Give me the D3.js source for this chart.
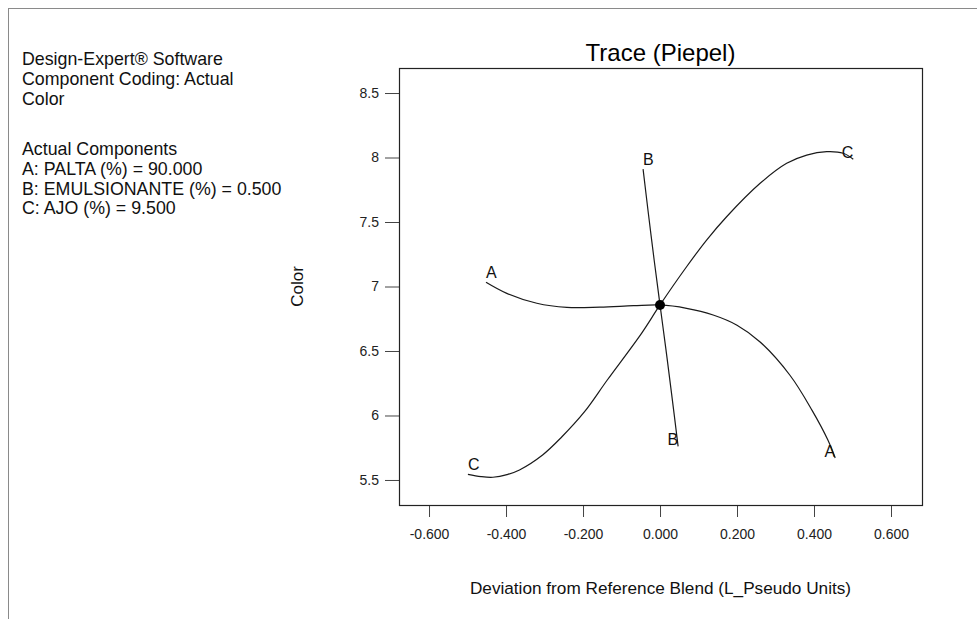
<!DOCTYPE html>
<html>
<head>
<meta charset="utf-8">
<script src="https://cdn.jsdelivr.net/npm/d3@7/dist/d3.min.js"></script>
<style>
  html, body { margin: 0; padding: 0; background: #fff; }
  svg { display: block; font-family: "Liberation Sans", Arial, sans-serif; }
</style>
</head>
<body>
<svg id="chart" width="977" height="619"></svg>
<script>
// Trace (Piepel) response curves for Color, one per mixture component
const aDeviation = [-0.452, -0.398, -0.320, -0.242, -0.156, -0.069, 0, 0.069, 0.138, 0.200, 0.260, 0.338, 0.395, 0.436, 0.455];
const aColor     = [7.033, 6.947, 6.870, 6.838, 6.840, 6.851, 6.857, 6.831, 6.779, 6.700, 6.570, 6.310, 6.040, 5.810, 5.670];

const bDeviation = [-0.044, -0.030, -0.015, 0, 0.015, 0.030, 0.047];
const bColor     = [7.910, 7.560, 7.200, 6.857, 6.520, 6.170, 5.760];

const cDeviation = [-0.499, -0.465, -0.434, -0.395, -0.365, -0.305, -0.256, -0.196, -0.137, -0.048, 0, 0.069, 0.121, 0.173, 0.260, 0.329, 0.381, 0.433, 0.476, 0.502];
const cColor     = [5.544, 5.526, 5.521, 5.544, 5.578, 5.694, 5.831, 6.029, 6.275, 6.637, 6.857, 7.153, 7.360, 7.541, 7.800, 7.955, 8.019, 8.045, 8.033, 7.986];

const referenceBlend = { deviation: 0, color: 6.857 };

const xTicks = [-0.6, -0.4, -0.2, 0.0, 0.2, 0.4, 0.6];
const yTicks = [5.5, 6, 6.5, 7, 7.5, 8, 8.5];

const headerLines = [
  "Design-Expert\u00AE Software",
  "Component Coding: Actual",
  "Color"
];
const componentLines = [
  "Actual Components",
  "A: PALTA (%) = 90.000",
  "B: EMULSIONANTE (%) = 0.500",
  "C: AJO (%) = 9.500"
];

const traces = [
  { name: "A", dev: aDeviation, val: aColor },
  { name: "B", dev: bDeviation, val: bColor },
  { name: "C", dev: cDeviation, val: cColor }
];

const svg = d3.select("#chart");
const plot = { left: 399, right: 922, top: 68, bottom: 505 };

const x = d3.scaleLinear().domain([-0.678, 0.6805]).range([plot.left, plot.right]);
const y = d3.scaleLinear().domain([5.306, 8.694]).range([plot.bottom, plot.top]);

// outer page border
svg.append("rect")
  .attr("x", 8.5).attr("y", 8.5)
  .attr("width", 1000).attr("height", 1000)
  .attr("fill", "none").attr("stroke", "#8a8a8a").attr("stroke-width", 1);

// info text blocks
function textBlock(lines, top) {
  const t = svg.append("text")
    .attr("font-size", 17.8).attr("fill", "#111");
  lines.forEach((line, i) => {
    t.append("tspan").attr("x", 22).attr("y", top + i * 19.8).text(line);
  });
}
textBlock(headerLines, 65);
textBlock(componentLines, 155);

// title
svg.append("text")
  .attr("x", (plot.left + plot.right) / 2).attr("y", 61)
  .attr("text-anchor", "middle")
  .attr("font-size", 24).attr("fill", "#000")
  .text("Trace (Piepel)");

// x axis
const xAxis = d3.axisBottom(x)
  .tickValues(xTicks)
  .tickFormat(d => d.toFixed(3))
  .tickSize(12).tickSizeOuter(0).tickPadding(12);
const gx = svg.append("g")
  .attr("transform", `translate(0,${plot.bottom})`)
  .call(xAxis);
gx.select(".domain").remove();
gx.selectAll(".tick line").attr("stroke", "#444");
gx.selectAll(".tick text")
  .attr("font-size", 14).attr("fill", "#222")
  .attr("font-family", "'Liberation Sans', Arial, sans-serif");

// y axis
const yAxis = d3.axisLeft(y)
  .tickValues(yTicks)
  .tickFormat(d => String(d))
  .tickSize(14).tickSizeOuter(0).tickPadding(6);
const gy = svg.append("g")
  .attr("transform", `translate(${plot.left},0)`)
  .call(yAxis);
gy.select(".domain").remove();
gy.selectAll(".tick line").attr("stroke", "#444");
gy.selectAll(".tick text")
  .attr("font-size", 14).attr("fill", "#222")
  .attr("font-family", "'Liberation Sans', Arial, sans-serif");

// plot frame
svg.append("rect")
  .attr("x", plot.left + 0.5).attr("y", plot.top + 0.5)
  .attr("width", plot.right - plot.left).attr("height", plot.bottom - plot.top)
  .attr("fill", "none").attr("stroke", "#222").attr("stroke-width", 1.2);

// axis titles
svg.append("text")
  .attr("x", (plot.left + plot.right) / 2).attr("y", 594)
  .attr("text-anchor", "middle")
  .attr("font-size", 17.2).attr("fill", "#111")
  .text("Deviation from Reference Blend (L_Pseudo Units)");

svg.append("text")
  .attr("transform", `translate(303,${(plot.top + plot.bottom) / 2}) rotate(-90)`)
  .attr("text-anchor", "middle")
  .attr("font-size", 17).attr("fill", "#111")
  .text("Color");

// trace curves
const line = d3.line()
  .x(d => x(d[0]))
  .y(d => y(d[1]))
  .curve(d3.curveCatmullRom.alpha(0.5));

const curves = svg.append("g");
traces.forEach(t => {
  const pts = t.dev.map((d, i) => [d, t.val[i]]);
  curves.append("path")
    .datum(pts)
    .attr("d", line)
    .attr("fill", "none")
    .attr("stroke", "#1a1a1a")
    .attr("stroke-width", 1.2);

  const first = pts[0], last = pts[pts.length - 1];
  curves.append("text")
    .attr("x", x(first[0])).attr("y", y(first[1]) - 4)
    .attr("text-anchor", "start")
    .attr("font-size", 16).attr("fill", "#111")
    .text(t.name);
  curves.append("text")
    .attr("x", x(last[0])).attr("y", y(last[1]) - 1)
    .attr("text-anchor", "end")
    .attr("font-size", 16).attr("fill", "#111")
    .text(t.name);
});

// reference blend point
svg.append("circle")
  .attr("cx", x(referenceBlend.deviation))
  .attr("cy", y(referenceBlend.color))
  .attr("r", 5)
  .attr("fill", "#000");
</script>
</body>
</html>
